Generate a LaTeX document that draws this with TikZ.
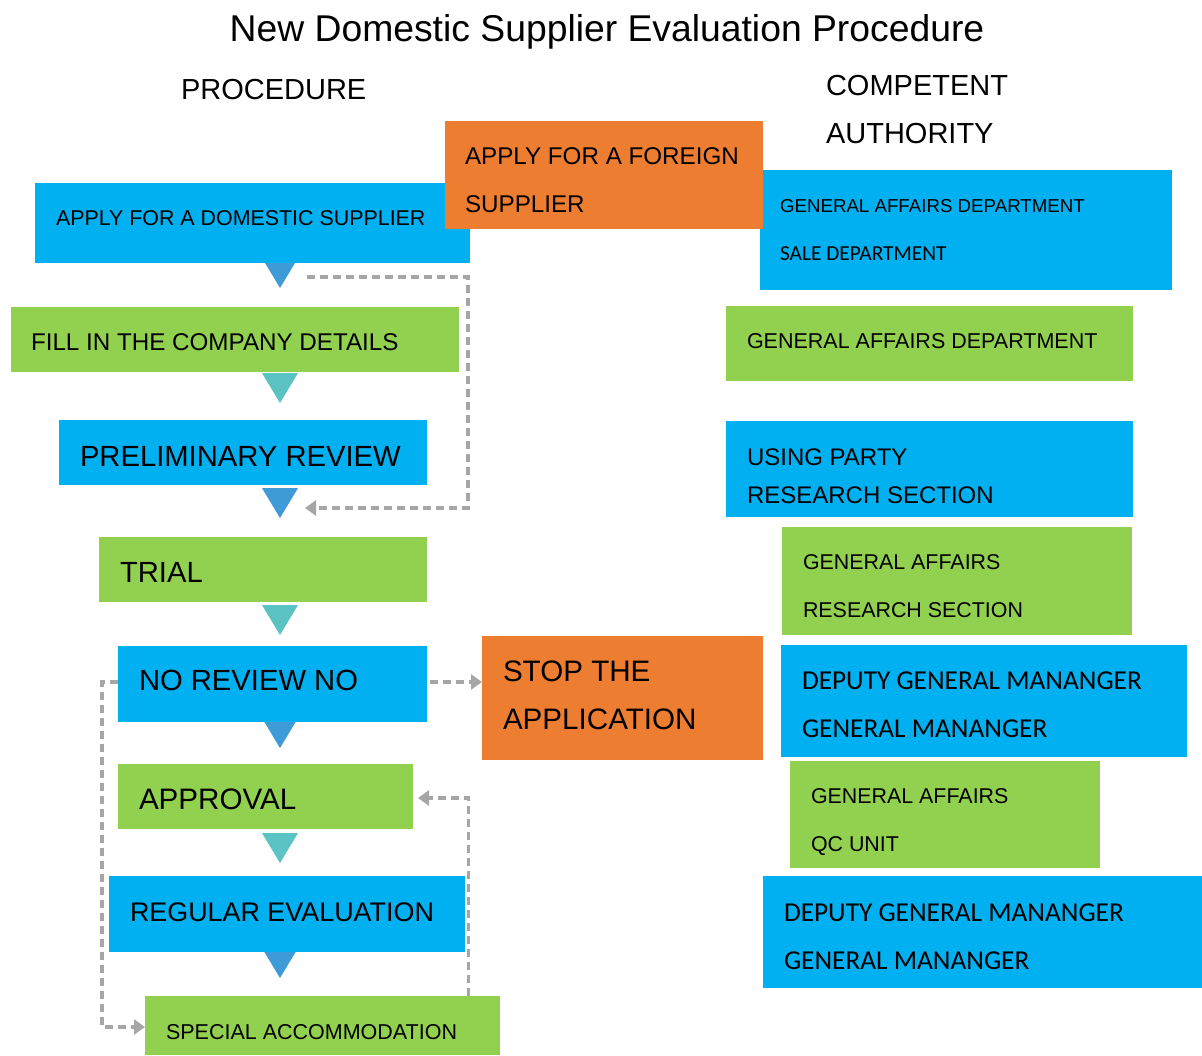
\documentclass[tikz,border=0pt]{standalone}
\usepackage{fontspec}
\setmainfont{Liberation Sans}
\newfontfamily\carlito{Carlito}
\usetikzlibrary{arrows.meta}
\definecolor{boxblue}{HTML}{00B0F0}
\definecolor{boxgreen}{HTML}{92D050}
\definecolor{boxorange}{HTML}{ED7D31}
\definecolor{tipblue}{HTML}{3E9BD8}
\definecolor{tipteal}{HTML}{5BC3C3}
\definecolor{linkgray}{HTML}{A6A6A6}
\newcommand\fsz[1]{\fontsize{#1pt}{#1pt}\selectfont}

\begin{document}
\begin{tikzpicture}[x=1pt,y=-1pt,
  panel/.style={rectangle, inner sep=0pt, outer sep=0pt, draw=none},
  bluebox/.style={panel, fill=boxblue},
  greenbox/.style={panel, fill=boxgreen},
  orangebox/.style={panel, fill=boxorange},
  txt/.style={anchor=base west, inner sep=0pt, outer sep=0pt, text=black},
  link/.style={draw=linkgray, line width=3.5pt, dash pattern=on 8pt off 5pt},
  linkarrow/.style={link, -{Triangle[length=11pt,width=15pt]}},
]
\useasboundingbox (0,0) rectangle (1202,1055);

% headings
\node[txt, anchor=base] (title) at (607,41) {\fsz{37.3}New Domestic Supplier Evaluation Procedure};
\node[txt] (hproc) at (181,99) {\fsz{29}PROCEDURE};
\node[txt] (hcomp1) at (826,95) {\fsz{29}COMPETENT};
\node[txt] (hcomp2) at (826,143) {\fsz{29}AUTHORITY};

% pointers between the procedure steps (drawn first, boxes cover their tops)
\coordinate (tipA) at (280,288);
\coordinate (tipB) at (280,403);
\coordinate (tipC) at (280,518);
\coordinate (tipD) at (280,635);
\coordinate (tipE) at (280,748);
\coordinate (tipF) at (280,863);
\coordinate (tipG) at (280,978);
\fill[tipblue] (tipA) -- ++(-18,-30) -- ++(36,0) -- cycle;
\fill[tipteal] (tipB) -- ++(-18,-30) -- ++(36,0) -- cycle;
\fill[tipblue] (tipC) -- ++(-18,-30) -- ++(36,0) -- cycle;
\fill[tipteal] (tipD) -- ++(-18,-30) -- ++(36,0) -- cycle;
\fill[tipblue] (tipE) -- ++(-18,-30) -- ++(36,0) -- cycle;
\fill[tipteal] (tipF) -- ++(-18,-30) -- ++(36,0) -- cycle;
\fill[tipblue] (tipG) -- ++(-18,-30) -- ++(36,0) -- cycle;

% procedure column
\node[bluebox,  minimum width=435, minimum height=80] (dom)   at (252.5,223)   {};
\node[greenbox, minimum width=448, minimum height=65] (fill)  at (235,339.5)   {};
\node[bluebox,  minimum width=368, minimum height=65] (prel)  at (243,452.5)   {};
\node[greenbox, minimum width=328, minimum height=65] (trial) at (263,569.5)   {};
\node[bluebox,  minimum width=309, minimum height=76] (norev) at (272.5,684)   {};
\node[greenbox, minimum width=295, minimum height=65] (appr)  at (265.5,796.5) {};
\node[bluebox,  minimum width=356, minimum height=76] (reg)   at (287,914)     {};
\node[greenbox, minimum width=355, minimum height=59] (spec)  at (322.5,1025.5){};
\node[orangebox,minimum width=281, minimum height=124] (stop) at (622.5,698)   {};

% competent authority column
\node[bluebox,  minimum width=412, minimum height=120] (ca1) at (966,230)    {};
\node[greenbox, minimum width=407, minimum height=75]  (ca2) at (929.5,343.5) {};
\node[bluebox,  minimum width=407, minimum height=96]  (ca3) at (929.5,469)  {};
\node[greenbox, minimum width=350, minimum height=108] (ca4) at (957,581)    {};
\node[bluebox,  minimum width=406, minimum height=112] (ca5) at (984,701)    {};
\node[greenbox, minimum width=310, minimum height=107] (ca6) at (945,814.5)  {};
\node[bluebox,  minimum width=439, minimum height=112] (ca7) at (982.5,932)  {};

% foreign application sits on top of its neighbours
\node[orangebox,minimum width=318, minimum height=108] (foreign) at (604,175) {};

% step texts
\node[txt] (tdom)   at (56,225)  {\fsz{21.4}APPLY FOR A DOMESTIC SUPPLIER};
\node[txt] (tfill)  at (31,350)  {\fsz{24.2}FILL IN THE COMPANY DETAILS};
\node[txt] (tprel)  at (80,466)  {\fsz{29.2}PRELIMINARY REVIEW};
\node[txt] (ttrial) at (120,582) {\fsz{29.2}TRIAL};
\node[txt] (tnorev) at (139,690) {\fsz{29.2}NO REVIEW NO};
\node[txt] (tappr)  at (139,809) {\fsz{29.6}APPROVAL};
\node[txt] (treg)   at (130,921) {\fsz{26.9}REGULAR EVALUATION};
\node[txt] (tspec)  at (166,1039){\fsz{21.5}SPECIAL ACCOMMODATION};
\node[txt] (tfor1)  at (465,164) {\fsz{24.2}APPLY FOR A FOREIGN};
\node[txt] (tfor2)  at (465,212) {\fsz{24.2}SUPPLIER};
\node[txt] (tstop1) at (503,681) {\fsz{29.6}STOP THE};
\node[txt] (tstop2) at (503,729) {\fsz{29.6}APPLICATION};

% authority texts
\node[txt] (tca1a) at (780,212) {\fsz{18.7}GENERAL AFFAIRS DEPARTMENT};
\node[txt] (tca1b) at (780,260) {\fsz{21.4}\carlito SALE DEPARTMENT};
\node[txt] (tca2)  at (747,348) {\fsz{21.5}GENERAL AFFAIRS DEPARTMENT};
\node[txt] (tca3a) at (747,465) {\fsz{24}USING PARTY};
\node[txt] (tca3b) at (747,503) {\fsz{24}RESEARCH SECTION};
\node[txt] (tca4a) at (803,569) {\fsz{21.4}GENERAL AFFAIRS};
\node[txt] (tca4b) at (803,617) {\fsz{21.4}RESEARCH SECTION};
\node[txt] (tca5a) at (802,689) {\fsz{27.3}\carlito DEPUTY GENERAL MANANGER};
\node[txt] (tca5b) at (802,737) {\fsz{27.3}\carlito GENERAL MANANGER};
\node[txt] (tca6a) at (811,803) {\fsz{21.4}GENERAL AFFAIRS};
\node[txt] (tca6b) at (811,851) {\fsz{21.4}QC UNIT};
\node[txt] (tca7a) at (784,921) {\fsz{27.3}\carlito DEPUTY GENERAL MANANGER};
\node[txt] (tca7b) at (784,969) {\fsz{27.3}\carlito GENERAL MANANGER};

% dashed connectors (shifts are in page units: positive yshift moves up)
\coordinate (skipA) at ([xshift=27,yshift=11]tipA);
\coordinate (skipB) at ([xshift=25,yshift=10]tipC);
\draw[linkarrow] (skipA) -- ++(161,0) |- (skipB);
\draw[linkarrow] ([xshift=3,yshift=2]norev.east) -- ([yshift=16]stop.west);
\draw[linkarrow] ([yshift=2]norev.west) -- ++(-16,0) |- ([yshift=-1.5]spec.west);
\draw[linkarrow] ([xshift=146]spec.north) |- ([xshift=5,yshift=-1.5]appr.east);
\end{tikzpicture}
\end{document}
